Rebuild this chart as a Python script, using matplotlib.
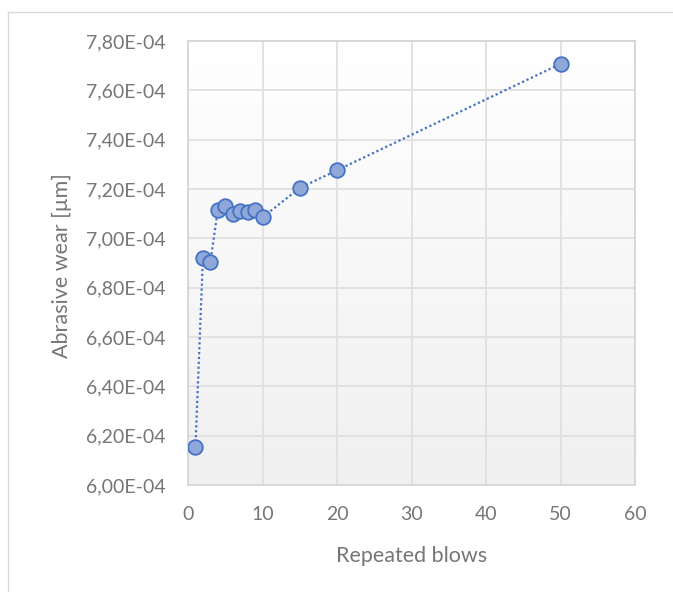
import numpy as np
import matplotlib
matplotlib.use('Agg')
import matplotlib.pyplot as plt
from matplotlib.lines import Line2D
from matplotlib.ticker import FuncFormatter

plt.rcParams['font.family'] = ['Lato', 'DejaVu Sans']

# data
blows = [1, 2, 3, 4, 5, 6, 7, 8, 9, 10, 15, 20, 50]
wear = [6.154e-4, 6.919e-4, 6.903e-4, 7.116e-4, 7.131e-4, 7.098e-4, 7.109e-4,
        7.108e-4, 7.113e-4, 7.085e-4, 7.204e-4, 7.276e-4, 7.707e-4]
y_ticks = [6.0e-4, 6.2e-4, 6.4e-4, 6.6e-4, 6.8e-4, 7.0e-4, 7.2e-4, 7.4e-4, 7.6e-4, 7.8e-4]
x_ticks = [0, 10, 20, 30, 40, 50, 60]

TEXT = '#767676'
GRID = '#e0e0e0'
BLUE = '#4472c4'
W, H = 673, 592

fig = plt.figure(figsize=(6.73, 5.92), dpi=100)
ax = fig.add_axes([188 / W, 1 - 485 / H, (635 - 188) / W, (485 - 41) / H])

# plot area gradient, white at top to light grey at bottom
grad = np.linspace(0, 1, 256).reshape(-1, 1)
ax.imshow(grad, extent=[0, 1, 0, 1], transform=ax.transAxes, aspect='auto',
          cmap=matplotlib.colors.LinearSegmentedColormap.from_list('g', ['#f0f0f0', '#ffffff']),
          origin='lower', zorder=0)

ax.plot(blows, wear, linestyle=(0, (1, 1.2)), color=BLUE, linewidth=1.6, zorder=3,
        marker='o', markersize=10.5, markerfacecolor='#90a8d9', markeredgecolor=BLUE,
        markeredgewidth=1.3)

ax.set_xlim(0, 60)
ax.set_ylim(6.0e-4, 7.8e-4)
ax.set_xticks(x_ticks)
ax.set_yticks(y_ticks)
ax.yaxis.set_major_formatter(FuncFormatter(
    lambda v, p: ('%.2fE-04' % (v * 1e4)).replace('.', ',')))
ax.grid(True, color=GRID, linewidth=1.3, zorder=1)
ax.set_axisbelow(True)
ax.tick_params(length=0, labelsize=14, colors=TEXT)
ax.tick_params(axis='y', pad=16)
ax.tick_params(axis='x', pad=15)
for s in ax.spines.values():
    s.set_color('#d6d6d6')
    s.set_linewidth(1.3)

# axis titles placed in pixel positions of the reference
fig.text(412 / W, 1 - 556 / H, 'Repeated blows', fontsize=15.5, color=TEXT,
         ha='center', va='center')
fig.text(62 / W, 1 - 266 / H, 'Abrasive wear [µm]', fontsize=15.5, color=TEXT,
         ha='center', va='center', rotation=90)

# outer chart border (top and left visible)
fig.add_artist(Line2D([8 / W, 1], [1 - 12 / H, 1 - 12 / H], color='#d9d9d9', linewidth=1))
fig.add_artist(Line2D([8 / W, 8 / W], [0, 1 - 12 / H], color='#d9d9d9', linewidth=1))

fig.savefig('out.png', dpi=100)
